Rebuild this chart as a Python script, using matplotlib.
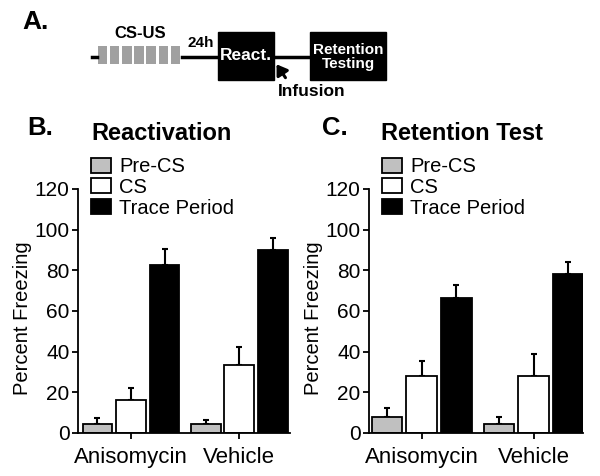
import numpy as np
import matplotlib
matplotlib.use("Agg")
import matplotlib.pyplot as plt
from matplotlib.patches import Rectangle, FancyArrowPatch

plt.rcParams['font.family'] = ['Liberation Sans', 'DejaVu Sans']

groups = ['Anisomycin', 'Vehicle']
periods = ['Pre-CS', 'CS', 'Trace Period']
colors = ['#c0c0c0', 'white', 'black']

# percent freezing (mean, upper SEM) per period, [anisomycin, vehicle]
react_mean = {'Pre-CS': [4.2, 4.2], 'CS': [16.1, 33.3], 'Trace Period': [82.8, 90.2]}
react_err = {'Pre-CS': [3.4, 2.1], 'CS': [5.8, 8.8], 'Trace Period': [7.8, 5.9]}
ret_mean = {'Pre-CS': [8.0, 4.4], 'CS': [28.0, 28.2], 'Trace Period': [66.2, 78.4]}
ret_err = {'Pre-CS': [4.4, 3.6], 'CS': [7.2, 10.5], 'Trace Period': [6.4, 5.7]}

W, H = 600, 476
fig = plt.figure(figsize=(W / 100, H / 100), dpi=100)


def fx(px):
    return px / W


def fy(py):
    return 1 - py / H


def bar_panel(rect, means, errs, xlim):
    ax = fig.add_axes(rect)
    x = np.arange(len(groups))
    offs = [-0.31, 0.0, 0.31]
    for i, p in enumerate(periods):
        ax.bar(x + offs[i], means[p], 0.275, color=colors[i], edgecolor='black',
               linewidth=1.3, label=p, zorder=2,
               yerr=[np.zeros(len(groups)), errs[p]],
               error_kw=dict(ecolor='black', elinewidth=1.5, capsize=2.5, capthick=1.5, zorder=1))
    ax.set_ylim(0, 120)
    ax.set_xlim(*xlim)
    ax.set_yticks(np.arange(0, 121, 20))
    ax.set_xticks(x)
    ax.set_xticklabels(groups, fontsize=16)
    ax.tick_params(axis='y', labelsize=15, length=4, width=1.3, pad=2)
    ax.tick_params(axis='x', length=4, width=1.3, pad=6)
    for s in ['top', 'right']:
        ax.spines[s].set_visible(False)
    for s in ['left', 'bottom']:
        ax.spines[s].set_linewidth(1.3)
    ax.set_ylabel('Percent Freezing', fontsize=14.5)
    ax.yaxis.set_label_coords(-0.215, 0.47)
    ax.legend(loc='upper left', bbox_to_anchor=(0.06, 1.13), frameon=False,
              fontsize=14.5, handlelength=1.0, handleheight=0.75, handletextpad=0.4,
              labelspacing=0.08, borderpad=0, borderaxespad=0)
    return ax


bar_panel([fx(78), fy(433), fx(290) - fx(78), fy(189) - fy(433)],
          react_mean, react_err, (-0.49, 1.47))
bar_panel([fx(369), fy(433), fx(583) - fx(369), fy(189) - fy(433)],
          ret_mean, ret_err, (-0.47, 1.44))

fig.text(fx(27), fy(128), 'B.', fontsize=18.5, fontweight='bold', va='center')
fig.text(fx(91), fy(133), 'Reactivation', fontsize=17, fontweight='bold', va='center')
fig.text(fx(322), fy(128), 'C.', fontsize=18.5, fontweight='bold', va='center')
fig.text(fx(381), fy(133), 'Retention Test', fontsize=17, fontweight='bold', va='center')

# panel A schematic, drawn in pixel coordinates
sa = fig.add_axes([0, 0, 1, 1], zorder=5)
sa.set_xlim(0, W)
sa.set_ylim(H, 0)
sa.axis('off')
sa.patch.set_alpha(0)

sa.text(22, 22, 'A.', fontsize=19, fontweight='bold', va='center')
sa.plot([92, 97], [57, 57], color='black', lw=2.5)
for k in range(7):
    sa.add_patch(Rectangle((98 + k * 12.1, 46), 9.3, 18, color='#a0a0a0', lw=0))
sa.plot([182, 218], [57, 57], color='black', lw=2.5)
sa.plot([274, 310], [57, 57], color='black', lw=2.5)
sa.add_patch(Rectangle((218, 32), 56, 48, color='black'))
sa.add_patch(Rectangle((310, 32), 76, 48, color='black'))

sa.text(246, 56, 'React.', color='white', fontsize=12.5, fontweight='bold',
        ha='center', va='center')
sa.text(348, 57, 'Retention\nTesting', color='white', fontsize=11, fontweight='bold',
        ha='center', va='center', linespacing=0.95)
sa.text(140, 34, 'CS-US', fontsize=12, fontweight='bold', ha='center', va='center')
sa.text(201, 43, '24h', fontsize=11, fontweight='bold', ha='center', va='center')
sa.text(312, 92, 'Infusion', fontsize=12.5, fontweight='bold', ha='center', va='center')
sa.add_patch(FancyArrowPatch((287, 80), (275, 62), arrowstyle='-|>,head_length=6,head_width=4',
                             color='black', lw=2.2, mutation_scale=1))

fig.savefig('out.png', dpi=100)
